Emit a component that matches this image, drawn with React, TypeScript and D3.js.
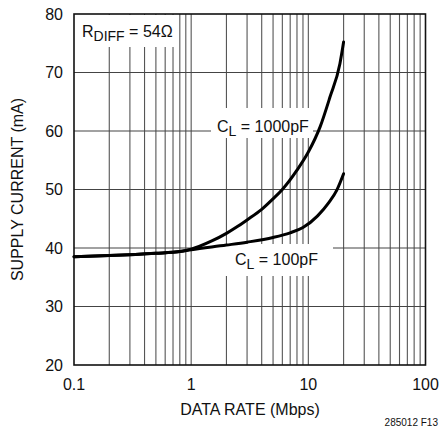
import React from "react";
import * as d3 from "d3";

// data rate (Mbps) / supply current (mA)
const rate1000 = [0.1, 0.2, 0.5, 0.8, 1, 1.5, 2, 2.5, 3, 4, 5, 6, 8, 10, 12.6, 15.3, 18.6, 20];
const current1000 = [38.5, 38.7, 39.1, 39.4, 39.8, 41.2, 42.5, 43.7, 44.8, 46.6, 48.4, 50.0, 53.3, 56.4, 60.7, 65.8, 71.5, 75.2];
const rate100 = [0.1, 0.2, 0.5, 0.8, 1, 2, 3, 5, 7, 9, 12, 15, 17.5, 20];
const current100 = [38.5, 38.7, 39.1, 39.4, 39.7, 40.5, 41.0, 41.8, 42.6, 43.5, 45.5, 47.8, 49.9, 52.7];

const xTicks = [0.1, 1, 10, 100];
const xTickLabels = ["0.1", "1", "10", "100"];
const yTicks = [20, 30, 40, 50, 60, 70, 80];

const W = 440;
const H = 431;
const margin = { left: 74, right: 14.5, top: 14, bottom: 66 };
const FONT = "'Liberation Sans Narrow', 'Arial Narrow', 'Liberation Sans', Arial, sans-serif";

export default function App() {
  const x = d3.scaleLog().domain([0.1, 100]).range([margin.left, W - margin.right]);
  const y = d3.scaleLinear().domain([20, 80]).range([H - margin.bottom, margin.top]);

  const minorX: number[] = [];
  [0.1, 1, 10].forEach((d) => {
    for (let k = 2; k <= 9; k++) minorX.push(d * k);
  });
  minorX.push(1, 10);

  const line = d3
    .line<[number, number]>()
    .x((d) => x(d[0]))
    .y((d) => y(d[1]))
    .curve(d3.curveMonotoneX);

  const d1000 = line(rate1000.map((r, i) => [r, current1000[i]] as [number, number])) || "";
  const d100 = line(rate100.map((r, i) => [r, current100[i]] as [number, number])) || "";

  const x0 = x(0.1);
  const x1 = x(100);
  const y0 = y(20);
  const y1 = y(80);

  return (
    <svg
      width={W}
      height={H}
      style={{ position: "absolute", left: 0, top: 0, background: "#fff" }}
      fontFamily={FONT}
    >
      {/* grid */}
      {minorX.map((v, i) => (
        <line key={"v" + i} x1={x(v)} x2={x(v)} y1={y1} y2={y0} stroke="#555" strokeWidth={1.1} />
      ))}
      {yTicks.slice(1, -1).map((v) => (
        <line key={"h" + v} x1={x0} x2={x1} y1={y(v)} y2={y(v)} stroke="#444" strokeWidth={1.1} />
      ))}

      {/* label boxes */}
      <rect x={x0 + 1} y={y1 + 1} width={104} height={32} fill="#fff" />
      <rect x={211} y={108} width={102} height={30} fill="#fff" />
      <rect x={196} y={244} width={137} height={32} fill="#fff" />

      {/* frame */}
      <rect x={x0} y={y1} width={x1 - x0} height={y0 - y1} fill="none" stroke="#111" strokeWidth={1.6} />

      {/* curves */}
      <path d={d1000} fill="none" stroke="#000" strokeWidth={3} strokeLinecap="round" />
      <path d={d100} fill="none" stroke="#000" strokeWidth={3} strokeLinecap="round" />

      {/* labels */}
      <text x={82} y={37} fontSize={16} fill="#111">
        R<tspan fontSize={14} dy={4}>DIFF</tspan>
        <tspan dy={-4}> = 54Ω</tspan>
      </text>
      <text x={217} y={132} fontSize={16} fill="#111">
        C<tspan fontSize={14} dy={4}>L</tspan>
        <tspan dy={-4}> = 1000pF</tspan>
      </text>
      <text x={235} y={265} fontSize={16} fill="#111">
        C<tspan fontSize={14} dy={4}>L</tspan>
        <tspan dy={-4}> = 100pF</tspan>
      </text>

      {/* y ticks */}
      {yTicks.map((v) => (
        <text key={"yt" + v} x={63} y={y(v)} dy="0.36em" textAnchor="end" fontSize={16} fill="#111">
          {v}
        </text>
      ))}
      {/* x ticks */}
      {xTicks.map((v, i) => (
        <text key={"xt" + v} x={x(v)} y={390} textAnchor="middle" fontSize={16} fill="#111">
          {xTickLabels[i]}
        </text>
      ))}

      <text x={250} y={415} textAnchor="middle" fontSize={16} fill="#111">
        DATA RATE (Mbps)
      </text>
      <text
        transform={`translate(23, ${(y0 + y1) / 2}) rotate(-90)`}
        textAnchor="middle"
        fontSize={16}
        fill="#111"
      >
        SUPPLY CURRENT (mA)
      </text>
      <text x={438} y={426} textAnchor="end" fontSize={10} fill="#111">
        285012 F13
      </text>
    </svg>
  );
}
